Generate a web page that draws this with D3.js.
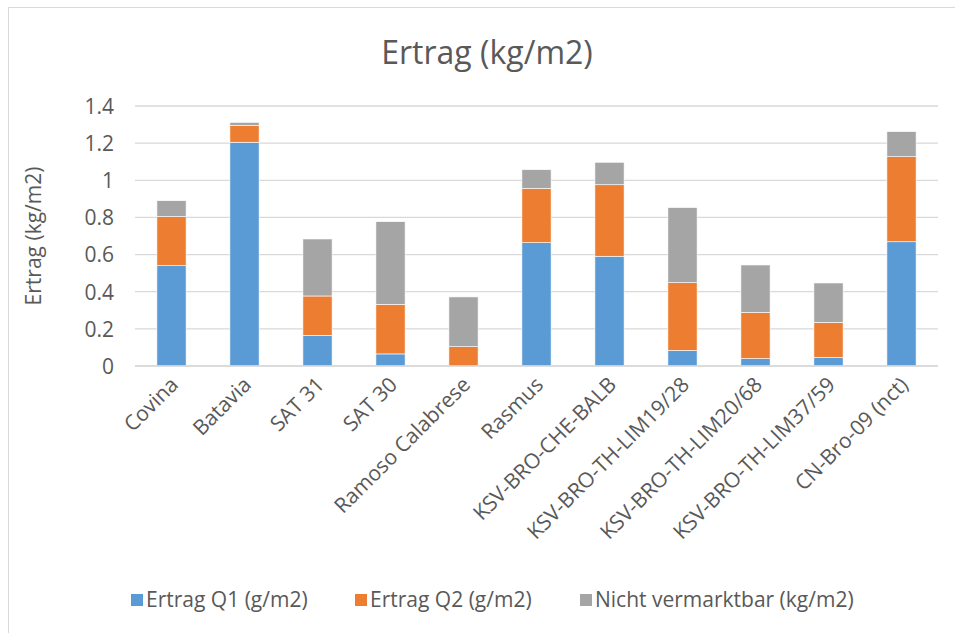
<!DOCTYPE html>
<html>
<head>
<meta charset="utf-8">
<script src="https://cdn.jsdelivr.net/npm/d3@7"></script>
<style>
  body { margin: 0; background: #fff; }
  text { font-family: "Open Sans", sans-serif; fill: #595959; }
</style>
</head>
<body>
<svg id="chart" width="955" height="633"></svg>
<script>
// data
const sorten = ["Covina", "Batavia", "SAT 31", "SAT 30", "Ramoso Calabrese", "Rasmus",
  "KSV-BRO-CHE-BALB", "KSV-BRO-TH-LIM19/28", "KSV-BRO-TH-LIM20/68", "KSV-BRO-TH-LIM37/59", "CN-Bro-09 (nct)"];
const ertragQ1 = [0.54, 1.205, 0.165, 0.065, 0, 0.664, 0.591, 0.084, 0.04, 0.046, 0.669];
const ertragQ2 = [0.265, 0.09, 0.212, 0.267, 0.104, 0.293, 0.385, 0.365, 0.249, 0.189, 0.458];
const nichtVermarktbar = [0.085, 0.017, 0.307, 0.445, 0.268, 0.10, 0.121, 0.404, 0.255, 0.212, 0.135];
const serien = ["Ertrag Q1 (g/m2)", "Ertrag Q2 (g/m2)", "Nicht vermarktbar (kg/m2)"];
const farben = ["#5B9BD5", "#ED7D31", "#A5A5A5"];
const yTicks = [0, 0.2, 0.4, 0.6, 0.8, 1, 1.2, 1.4];

const svg = d3.select("#chart");

// Rahmen
svg.append("rect")
  .attr("x", 8.5).attr("y", 7.5)
  .attr("width", 1000).attr("height", 700)
  .attr("fill", "none").attr("stroke", "#d9d9d9").attr("stroke-width", 1);

const links = 135, rechts = 938, oben = 106, unten = 366;

const x = d3.scaleBand().domain(sorten).range([links, rechts]).paddingInner(0.6).paddingOuter(0.3);
const y = d3.scaleLinear().domain([0, 1.4]).range([unten, oben]);

// Gitterlinien
svg.append("g")
  .selectAll("line")
  .data(yTicks)
  .enter().append("line")
  .attr("x1", links).attr("x2", rechts)
  .attr("y1", d => y(d)).attr("y2", d => y(d))
  .attr("stroke", "#d9d9d9").attr("stroke-width", 1.3);

// y Achse
const yAxis = svg.append("g")
  .attr("transform", "translate(" + (links - 21) + ",0)")
  .call(d3.axisLeft(y).tickValues(yTicks).tickSize(0).tickFormat(d => String(+d.toFixed(1))));
yAxis.select(".domain").remove();
yAxis.selectAll("text")
  .attr("x", 0).attr("dy", "0.35em")
  .style("font-size", "21px").style("fill", "#595959")
  .style("font-family", "Open Sans, sans-serif");

// Stapel
const tabelle = sorten.map((s, i) => ({ sorte: s, q1: ertragQ1[i], q2: ertragQ2[i], nv: nichtVermarktbar[i] }));
const stack = d3.stack().keys(["q1", "q2", "nv"]);
const lagen = stack(tabelle);

svg.append("g")
  .selectAll("g")
  .data(lagen)
  .enter().append("g")
  .attr("fill", (d, i) => farben[i])
  .selectAll("rect")
  .data(d => d)
  .enter().append("rect")
  .attr("x", d => x(d.data.sorte))
  .attr("width", x.bandwidth())
  .attr("y", d => y(d[1]))
  .attr("height", d => Math.max(0, y(d[0]) - y(d[1])))
  .attr("stroke", "#fff").attr("stroke-width", 0.6);

// Grundlinie
svg.append("line")
  .attr("x1", links).attr("x2", rechts)
  .attr("y1", unten).attr("y2", unten)
  .attr("stroke", "#d9d9d9").attr("stroke-width", 1.3);

// x Achse
const xAxis = svg.append("g")
  .attr("transform", "translate(0," + unten + ")")
  .call(d3.axisBottom(x).tickSize(0));
xAxis.select(".domain").remove();
xAxis.selectAll("text")
  .style("font-size", "21px").style("fill", "#595959")
  .style("font-family", "Open Sans, sans-serif")
  .style("text-anchor", "end")
  .attr("y", 0).attr("dy", 0)
  .attr("transform", "translate(8,20) rotate(-45)");

// Titel
svg.append("text")
  .attr("x", 487).attr("y", 64)
  .attr("text-anchor", "middle")
  .style("font-size", "32px")
  .text("Ertrag (kg/m2)");

// y Beschriftung
svg.append("text")
  .attr("transform", "translate(41," + (oben + unten) / 2 + ") rotate(-90)")
  .attr("text-anchor", "middle")
  .style("font-size", "21px")
  .text("Ertrag (kg/m2)");

// Legende
const legende = svg.append("g");
const legX = [131, 355, 580];
serien.forEach(function (s, i) {
  legende.append("rect")
    .attr("x", legX[i]).attr("y", 594)
    .attr("width", 12).attr("height", 12)
    .attr("fill", farben[i]);
  legende.append("text")
    .attr("x", legX[i] + 15).attr("y", 600)
    .attr("dy", "0.35em")
    .style("font-size", "21px")
    .text(s);
});
</script>
</body>
</html>
